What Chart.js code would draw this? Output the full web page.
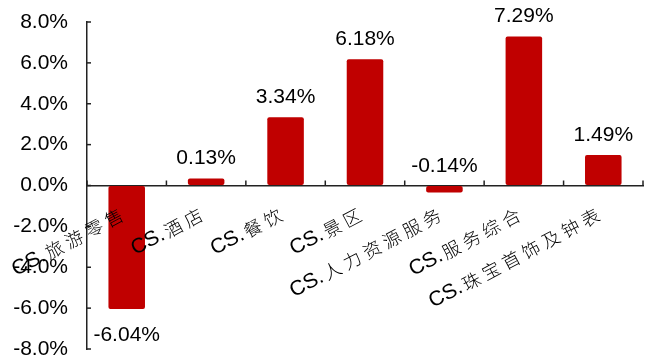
<!DOCTYPE html>
<html lang="zh">
<head>
<meta charset="UTF-8">
<title>CS 行业涨跌幅</title>
<script src="https://cdn.jsdelivr.net/npm/chart.js"></script>
<style>
  html, body { margin: 0; padding: 0; background: #fff; }
  #wrap { width: 653px; height: 359px; }
</style>
</head>
<body>
<div id="wrap"><canvas id="chart"></canvas></div>
<script>
const categories = ['CS.旅游零售', 'CS.酒店', 'CS.餐饮', 'CS.景区', 'CS.人力资源服务', 'CS.服务综合', 'CS.珠宝首饰及钟表'];
const values = [-6.04, 0.13, 3.34, 6.18, -0.14, 7.29, 1.49];
const yTicks = [-8, -6, -4, -2, 0, 2, 4, 6, 8];

const LAT_FONT = '21px "Liberation Sans", Arial, sans-serif';
const CJK_FONT = '300 18px "Noto Sans CJK SC", sans-serif';
const CJK_PITCH = 22.5;
const AXIS = '#222';

function line(ctx, x1, y1, x2, y2) {
  ctx.beginPath(); ctx.moveTo(x1, y1); ctx.lineTo(x2, y2); ctx.stroke();
}

// inward tick marks, value labels and slanted category labels
const decor = {
  id: 'decor',
  afterDraw(chart) {
    const { ctx, scales: { x, y } } = chart;
    const zero = y.getPixelForValue(0);
    ctx.save();
    ctx.strokeStyle = AXIS;
    ctx.lineWidth = 1.5;
    yTicks.forEach(v => {
      const py = y.getPixelForValue(v);
      line(ctx, x.left, py, x.left + 4, py);
    });
    for (let i = 0; i <= categories.length; i++) {
      const px = x.getPixelForValue(i - 0.5);
      line(ctx, px, zero, px, zero - 5);
    }

    ctx.fillStyle = '#000';
    ctx.font = LAT_FONT;
    ctx.textAlign = 'center';
    ctx.textBaseline = 'middle';
    chart.getDatasetMeta(0).data.forEach((bar, i) => {
      const v = values[i];
      const py = v < -1 ? bar.y + 26 : Math.min(bar.y, bar.base) - 20;
      ctx.fillText(v.toFixed(2) + '%', bar.x, py);
    });

    categories.forEach((label, i) => {
      const parts = [...label].map(ch => {
        const cjk = /[\u4e00-\u9fff]/.test(ch);
        ctx.font = cjk ? CJK_FONT : LAT_FONT;
        return { ch, cjk, w: cjk ? CJK_PITCH : ctx.measureText(ch).width };
      });
      const total = parts.reduce((s, p) => s + p.w, 0);
      ctx.save();
      ctx.translate(x.getPixelForTick(i) - 3, zero + 27);
      ctx.rotate(-28 * Math.PI / 180);
      ctx.textAlign = 'left';
      let cx = -total;
      parts.forEach(p => {
        ctx.font = p.cjk ? CJK_FONT : LAT_FONT;
        ctx.fillText(p.ch, cx + (p.cjk ? (CJK_PITCH - 18) / 2 : 0), 0);
        cx += p.w;
      });
      ctx.restore();
    });
    ctx.restore();
  }
};

new Chart(document.getElementById('chart'), {
  type: 'bar',
  data: {
    labels: categories,
    datasets: [{
      data: values,
      backgroundColor: '#C00000',
      borderRadius: 2,
      borderSkipped: false,
      categoryPercentage: 1,
      barPercentage: 0.46,
      minBarLength: 7
    }]
  },
  options: {
    responsive: true,
    maintainAspectRatio: false,
    animation: false,
    layout: { padding: { top: 22, right: 10, bottom: 10, left: 0 } },
    plugins: { legend: { display: false }, tooltip: { enabled: false } },
    scales: {
      x: {
        position: { y: 0 },
        afterFit(scale) { scale.height = 0; },
        grid: { display: true, color: 'rgba(0,0,0,0)', drawOnChartArea: false, drawTicks: false },
        border: { display: true, color: AXIS, width: 1.5 },
        ticks: { display: false }
      },
      y: {
        min: yTicks[0],
        max: yTicks[yTicks.length - 1],
        afterFit(scale) {
          scale.width = 87;
          scale.paddingTop = 0;
          scale.paddingBottom = 0;
        },
        afterBuildTicks(scale) { scale.ticks = yTicks.map(v => ({ value: v })); },
        grid: { display: true, color: 'rgba(0,0,0,0)', drawOnChartArea: false, drawTicks: false },
        border: { display: true, color: AXIS, width: 1.5 },
        ticks: {
          padding: 19,
          color: '#000',
          font: { family: '"Liberation Sans", Arial, sans-serif', size: 21 },
          callback: v => v.toFixed(1) + '%'
        }
      }
    }
  },
  plugins: [decor]
});
</script>
</body>
</html>
